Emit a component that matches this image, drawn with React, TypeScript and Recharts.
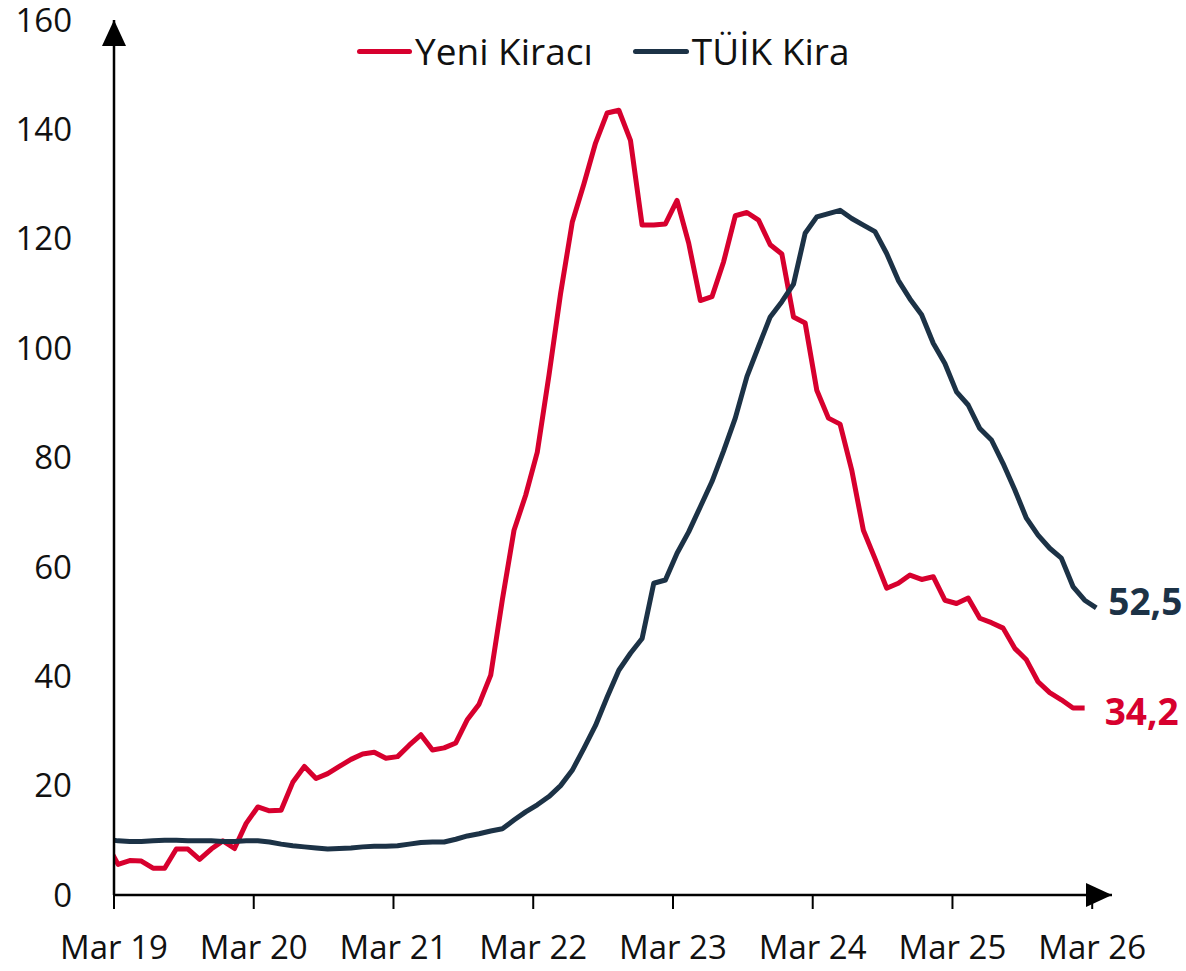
import React from 'react';
import { LineChart, Line, XAxis, YAxis } from 'recharts';

const RED = '#D7002E';
const NAVY = '#1C3246';

// First row is Feb 2019 (drawn partly, clipped by the y axis); months run monthly after that.
const firstYear = 2019;
const firstMonth = 2;

// Yeni Kiracı: Feb 19 ... Feb 26
const yeniKiraci = [
  9.5,
  5.6, 6.3, 6.2, 4.9, 4.9, 8.4, 8.4, 6.5, 8.4, 9.9, 8.5, 13.1,
  16.1, 15.4, 15.5, 20.6, 23.5, 21.3, 22.2, 23.5, 24.8, 25.8, 26.1, 25.0,
  25.3, 27.4, 29.3, 26.5, 26.9, 27.8, 32.1, 34.9, 40.2, 54.0, 66.7, 73.1,
  81.0, 95.0, 110.0, 123.0, 130.0, 137.5, 143.0, 143.5, 138.0, 122.5, 122.5, 122.7,
  127.0, 119.2, 108.7, 109.4, 115.8, 124.2, 124.8, 123.4, 118.9, 117.2, 105.7, 104.6,
  92.3, 87.2, 86.1, 77.7, 66.7, 61.5, 56.1, 57.0, 58.5, 57.7, 58.2, 53.9,
  53.3, 54.3, 50.6, 49.8, 48.8, 45.1, 43.0, 39.0, 37.0, 35.7, 34.2, 34.2,
];

// TÜİK Kira: Feb 19 ... Mar 26
const tuikKira = [
  10.2,
  9.9, 9.8, 9.8, 9.9, 10.0, 10.0, 9.9, 9.9, 9.9, 9.8, 9.8, 9.9,
  9.9, 9.7, 9.3, 9.0, 8.8, 8.6, 8.4, 8.5, 8.6, 8.8, 8.9, 8.9,
  9.0, 9.3, 9.6, 9.7, 9.7, 10.2, 10.8, 11.2, 11.7, 12.1, 13.7, 15.2,
  16.5, 18.0, 20.0, 22.8, 26.8, 31.0, 36.2, 41.1, 44.2, 46.9, 57.0, 57.6,
  62.5, 66.4, 71.0, 75.6, 81.2, 87.2, 94.8, 100.3, 105.7, 108.5, 111.7, 121.0,
  124.0, 124.6, 125.2, 123.7, 122.5, 121.3, 117.3, 112.4, 109.0, 106.1, 100.9, 97.2,
  92.0, 89.6, 85.3, 83.2, 78.9, 74.1, 68.9, 65.8, 63.4, 61.6, 56.4, 53.9,
  52.5,
];

const xTickLabels = ['Mar 19', 'Mar 20', 'Mar 21', 'Mar 22', 'Mar 23', 'Mar 24', 'Mar 25', 'Mar 26'];
const yTicks = [0, 20, 40, 60, 80, 100, 120, 140, 160];

const months = tuikKira.map((_, i) => {
  const m = firstMonth - 1 + i;
  const y = firstYear + Math.floor(m / 12);
  return `${y}-${String((m % 12) + 1).padStart(2, '0')}`;
});

// position of each monthly point relative to the "Mar 19" tick (months)
const POINT_SHIFT = -0.65;
const data = months.map((month, i) => ({
  month,
  t: i + POINT_SHIFT,
  yeni: yeniKiraci[i],
  tuik: tuikKira[i],
}));
const xTicks = xTickLabels.map((_, i) => i * 12);

const EndLabel = (props: any) => {
  const { x, y, index, value, lastIndex, color, dx, dy } = props;
  if (index !== lastIndex || value == null) return null;
  return (
    <text
      x={x + dx}
      y={y + dy}
      fill={color}
      fontSize={37}
      fontWeight={700}
      fontFamily='"Open Sans", sans-serif'
      dominantBaseline="central"
    >
      {Number(value).toFixed(1).replace('.', ',')}
    </text>
  );
};

export default function App() {
  return (
    <div
      style={{
        position: 'absolute',
        left: 0,
        top: 0,
        width: 1186,
        height: 971,
        background: '#fff',
        fontFamily: '"Open Sans", sans-serif',
      }}
    >
      <svg width={0} height={0} style={{ position: 'absolute' }}>
        <defs>
          <marker
            id="axisArrow"
            viewBox="0 0 26 24"
            markerWidth={26}
            markerHeight={24}
            refX={26}
            refY={12}
            orient="auto-start-reverse"
            markerUnits="userSpaceOnUse"
          >
            <path d="M0,0 L26,12 L0,24 Z" fill="#000" />
          </marker>
        </defs>
      </svg>
      <LineChart width={1186} height={971} data={data} margin={{ top: 20, right: 74, bottom: 0, left: 0 }}>
        <XAxis
          type="number"
          dataKey="t"
          domain={[0, 85.7]}
          allowDataOverflow
          ticks={xTicks}
          interval={0}
          tickFormatter={(v: number) => xTickLabels[Math.round(v / 12)]}
          height={76}
          tickSize={14}
          tickMargin={27}
          axisLine={{ stroke: '#000', strokeWidth: 2.5, markerEnd: 'url(#axisArrow)' }}
          tickLine={{ stroke: '#000', strokeWidth: 2 }}
          tick={{ fill: '#111', fontSize: 33 }}
        />
        <YAxis
          type="number"
          domain={[0, 160]}
          ticks={yTicks}
          interval={0}
          width={114}
          tickSize={0}
          tickMargin={42}
          axisLine={{ stroke: '#000', strokeWidth: 2.5, markerStart: 'url(#axisArrow)' }}
          tickLine={false}
          tick={{ fill: '#111', fontSize: 33 }}
        />
        <Line
          type="linear"
          dataKey="yeni"
          stroke={RED}
          strokeWidth={5}
          dot={false}
          strokeLinejoin="round"
          isAnimationActive={false}
          label={<EndLabel lastIndex={yeniKiraci.length - 1} color={RED} dx={20} dy={3} />}
        />
        <Line
          type="linear"
          dataKey="tuik"
          stroke={NAVY}
          strokeWidth={5}
          dot={false}
          strokeLinejoin="round"
          isAnimationActive={false}
          label={<EndLabel lastIndex={tuikKira.length - 1} color={NAVY} dx={12} dy={-7} />}
        />
      </LineChart>
      <div
        style={{
          position: 'absolute',
          top: 28,
          left: 357,
          display: 'flex',
          alignItems: 'center',
          fontSize: 37,
          lineHeight: '46px',
          color: '#111',
          whiteSpace: 'nowrap',
        }}
      >
        <span style={{ display: 'inline-block', width: 55, height: 5, background: RED, borderRadius: 3 }} />
        <span style={{ marginLeft: 3 }}>Yeni Kiracı</span>
        <span style={{ display: 'inline-block', width: 56, height: 5, background: NAVY, borderRadius: 3, marginLeft: 40 }} />
        <span style={{ marginLeft: 3 }}>TÜİK Kira</span>
      </div>
    </div>
  );
}
